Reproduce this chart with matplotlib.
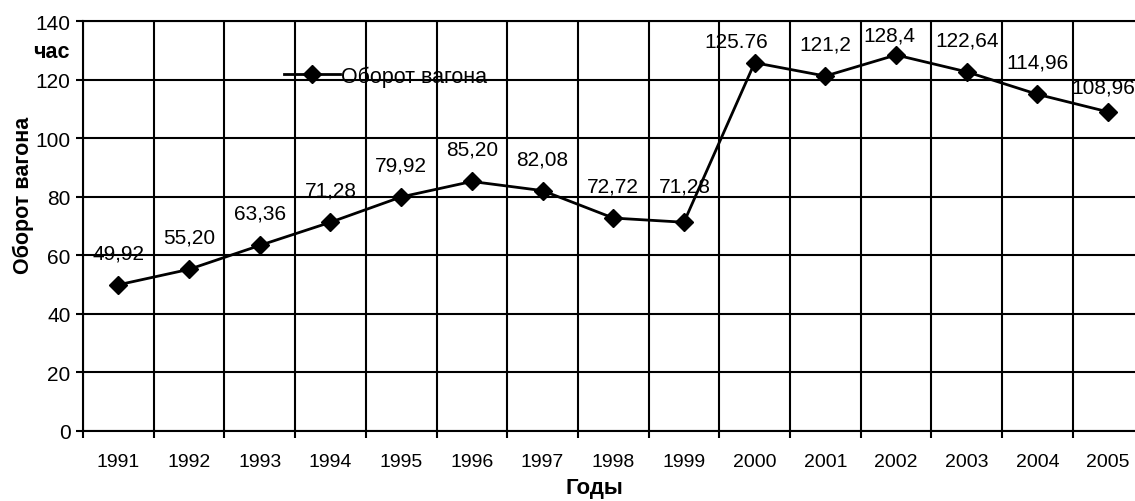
import matplotlib.pyplot as plt
import numpy as np

plt.rcParams["font.family"] = ["Liberation Sans", "DejaVu Sans"]

# ---------------------------------------------------------
# Данные
# ---------------------------------------------------------
years = ["1991", "1992", "1993", "1994", "1995", "1996", "1997", "1998",
         "1999", "2000", "2001", "2002", "2003", "2004", "2005"]
turnover = [49.92, 55.20, 63.36, 71.28, 79.92, 85.20, 82.08, 72.72,
            71.28, 125.76, 121.2, 128.4, 122.64, 114.96, 108.96]
value_labels = ["49,92", "55,20", "63,36", "71,28", "79,92", "85,20", "82,08",
                "72,72", "71,28", "125.76", "121,2", "128,4", "122,64",
                "114,96", "108,96"]
y_ticks = [0, 20, 40, 60, 80, 100, 120, 140]

# смещения подписей (в пикселях), по умолчанию прямо над точкой
label_shift = {9: (-18, 21), 11: (-7, 20), 14: (-5, 25), 8: (1, 36)}

# ---------------------------------------------------------
# График
# ---------------------------------------------------------
fig = plt.figure(figsize=(11.35, 5.02), dpi=100)
ax = fig.add_axes([83 / 1135, 1 - 432 / 502, 1060.5 / 1135, 410 / 502])

x = np.arange(len(years))
line, = ax.plot(x, turnover, color="black", lw=2.0, marker="D",
                markersize=9, label="Оборот вагона", clip_on=False,
                zorder=3)

for i, (val, txt) in enumerate(zip(turnover, value_labels)):
    dx, dy = label_shift.get(i, (0, 32))
    ax.annotate(txt, (x[i], val), xytext=(dx * 0.72, dy * 0.72),
                textcoords="offset points", ha="center", va="center",
                fontsize=15, annotation_clip=False, zorder=4)

ax.set_xlim(-0.5, len(years) - 0.5)
ax.set_ylim(0, 140)
ax.set_yticks(y_ticks)
ax.set_yticklabels([str(v) for v in y_ticks], fontsize=15)

ax.set_xticks(x)
ax.set_xticklabels(years, fontsize=14)
ax.set_xticks(np.arange(-0.5, len(years)), minor=True)
ax.tick_params(axis="x", which="major", length=0, pad=16)
ax.tick_params(axis="x", which="minor", length=5, width=1.5, direction="out")
ax.tick_params(axis="y", length=5, width=1.5, direction="out", pad=4)

ax.grid(True, axis="y", which="major", color="black", lw=1.5)
ax.grid(True, axis="x", which="minor", color="black", lw=1.5)
ax.set_axisbelow(True)
for side in ["left", "bottom", "top"]:
    ax.spines[side].set_linewidth(1.5)
ax.spines["right"].set_visible(False)

fig.text(23 / 1135, 1 - 195 / 502, "Оборот вагона", rotation=90,
         ha="center", va="center", fontsize=15.5, fontweight="bold")
fig.text(70 / 1135, 1 - 52 / 502, "час", ha="right", va="center",
         fontsize=15.5, fontweight="bold")
fig.text(594 / 1135, 1 - 489 / 502, "Годы", ha="center", va="center",
         fontsize=16, fontweight="bold")

leg = ax.legend(handles=[line], loc="center left", frameon=False,
                bbox_to_anchor=(273 / 1135, 1 - 77 / 502),
                bbox_transform=fig.transFigure, fontsize=15.5,
                handlelength=2.6, handletextpad=0.05, borderpad=0)

plt.savefig("out.png", dpi=100)
plt.close()
